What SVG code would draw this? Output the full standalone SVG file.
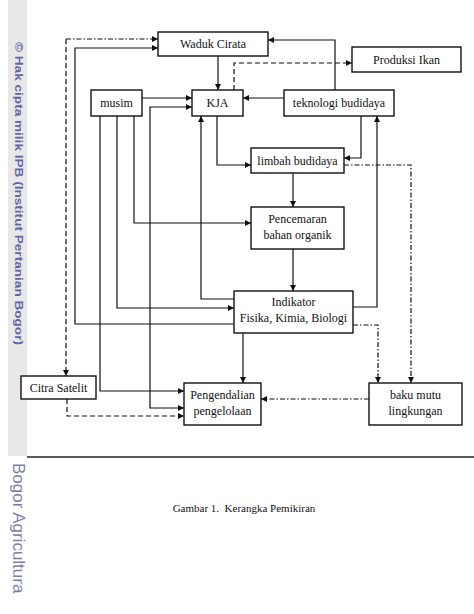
<svg xmlns="http://www.w3.org/2000/svg" width="474" height="614" viewBox="0 0 474 614">
<style>
.box{fill:#fff;stroke:#111;stroke-width:1.4}
.t{font-family:"Liberation Serif","Times New Roman",serif;font-size:12px;fill:#111;text-anchor:middle}
.c{fill:none;stroke:#111;stroke-width:1.2}
.dd{stroke-dasharray:5,2,1.5,2}
.ds{stroke-dasharray:5,3}
.wm{font-family:"Liberation Sans",Arial,sans-serif}
</style>
<defs>
<marker id="a" viewBox="0 0 10 10" refX="10" refY="5" markerWidth="7" markerHeight="6" markerUnits="userSpaceOnUse" orient="auto-start-reverse">
<path d="M0,0 L10,5 L0,10 z" fill="#111"/>
</marker>
</defs>
<rect width="474" height="614" fill="#fff"/>
<g id="watermark">
<rect x="8" y="0" width="19" height="456" fill="#e8e8e8"/>
<text class="wm" transform="translate(14.5,42) rotate(90)" font-size="10.5" font-weight="600" fill="#6463a8" textLength="303" lengthAdjust="spacingAndGlyphs">© Hak cipta milik IPB (Institut Pertanian Bogor)</text>
<text class="wm" transform="translate(12.5,463) rotate(90)" font-size="17" fill="#7e7eaa">Bogor Agricultura</text>
</g>
<line x1="27" y1="457" x2="474" y2="457" stroke="#222" stroke-width="1.5"/>
<g id="connectors">
<path class="c" d="M218,56 V90" marker-end="url(#a)"/>
<path class="c" d="M335,90 V40 H268" marker-end="url(#a)"/>
<path class="c ds" d="M234,90 V63 H352" marker-end="url(#a)"/>
<path class="c dd" d="M66,39 H158" marker-end="url(#a)"/>
<path class="c ds" d="M66,39 V376" marker-end="url(#a)"/>
<path class="c" d="M234,324 H75 V48 H158" marker-end="url(#a)"/>
<path class="c" d="M142,98 H192" marker-end="url(#a)"/>
<path class="c" d="M284,98 H243" marker-end="url(#a)"/>
<path class="c" d="M184,408 H150 V107 H192" marker-start="url(#a)" marker-end="url(#a)"/>
<path class="c" d="M134,116 V223 H251" marker-end="url(#a)"/>
<path class="c" d="M117,116 V308 H234" marker-end="url(#a)"/>
<path class="c" d="M100,116 V391 H184" marker-end="url(#a)"/>
<path class="c" d="M234,299 H201 V116" marker-end="url(#a)"/>
<path class="c" d="M217,116 V165 H251" marker-end="url(#a)"/>
<path class="c" d="M361,116 V158 H344" marker-end="url(#a)"/>
<path class="c" d="M353,307 H377 V116" marker-end="url(#a)"/>
<path class="c" d="M293,173 V207" marker-end="url(#a)"/>
<path class="c" d="M293,249 V291" marker-end="url(#a)"/>
<path class="c dd" d="M344,165 H411 V383" marker-end="url(#a)"/>
<path class="c dd" d="M353,325 H378 V383" marker-end="url(#a)"/>
<path class="c dd" d="M369,399 H261" marker-end="url(#a)"/>
<path class="c" d="M243,333 V383" marker-end="url(#a)"/>
<path class="c ds" d="M67,399 V416 H184" marker-end="url(#a)"/>
</g>
<g id="waduk"><rect class="box" x="158" y="32" width="110" height="24"/><text class="t" x="213" y="48">Waduk Cirata</text></g>
<g id="produksi"><rect class="box" x="352" y="47" width="109" height="25"/><text class="t" x="406.5" y="63.5">Produksi Ikan</text></g>
<g id="musim"><rect class="box" x="91" y="90" width="51" height="26"/><text class="t" x="116.5" y="107">musim</text></g>
<g id="kja"><rect class="box" x="192" y="90" width="51" height="26"/><text class="t" x="217.5" y="107">KJA</text></g>
<g id="teknologi"><rect class="box" x="284" y="90" width="110" height="26"/><text class="t" x="339" y="107">teknologi budidaya</text></g>
<g id="limbah"><rect class="box" x="251" y="148" width="93" height="25"/><text class="t" x="297.5" y="164.5">limbah budidaya</text></g>
<g id="pencemaran"><rect class="box" x="251" y="207" width="93" height="42"/><text class="t" x="297.5" y="223">Pencemaran</text><text class="t" x="297.5" y="239">bahan organik</text></g>
<g id="indikator"><rect class="box" x="234" y="291" width="119" height="42"/><text class="t" x="293.5" y="306">Indikator</text><text class="t" x="293.5" y="322">Fisika, Kimia, Biologi</text></g>
<g id="citra"><rect class="box" x="21" y="376" width="75" height="23"/><text class="t" x="58.5" y="391.5">Citra Satelit</text></g>
<g id="pengendalian"><rect class="box" x="184" y="383" width="77" height="42"/><text class="t" x="222.5" y="399">Pengendalian</text><text class="t" x="222.5" y="415">pengelolaan</text></g>
<g id="baku"><rect class="box" x="369" y="383" width="93" height="42"/><text class="t" x="415.5" y="399">baku mutu</text><text class="t" x="415.5" y="415">lingkungan</text></g>
<text class="t" x="244" y="512" xml:space="preserve" style="font-size:11px">Gambar 1.  Kerangka Pemikiran</text>
</svg>
